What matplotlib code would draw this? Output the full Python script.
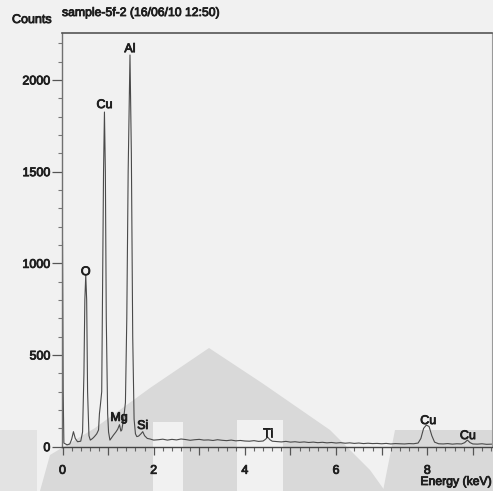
import matplotlib
matplotlib.use("Agg")
import matplotlib.pyplot as plt
from matplotlib.patches import Polygon
from matplotlib.ticker import MultipleLocator, FuncFormatter
import matplotlib.patheffects as pe

# ---- spectrum (energy in keV, counts) ----
energy_kev = [
    -0.03, -0.01, 0.00, 0.015, 0.03, 0.10, 0.16, 0.20, 0.24, 0.28, 0.33,
    0.40, 0.44, 0.47, 0.49, 0.51, 0.53, 0.55, 0.58, 0.61, 0.66, 0.70, 0.75,
    0.79, 0.81, 0.83, 0.86, 0.88, 0.90, 0.92, 0.94, 0.96, 0.99, 1.01, 1.04,
    1.08, 1.12, 1.17, 1.21, 1.25, 1.28, 1.30, 1.34, 1.38, 1.41, 1.44, 1.48,
    1.51, 1.54, 1.57, 1.60, 1.63, 1.67, 1.72, 1.76, 1.80, 1.86, 1.92, 2.00,
    2.1, 2.2, 2.3, 2.4, 2.5, 2.6, 2.7, 2.8, 2.9, 3.0, 3.1, 3.2, 3.3, 3.4,
    3.5, 3.6, 3.7, 3.8, 3.9, 4.0, 4.1, 4.2, 4.3, 4.4, 4.45, 4.50, 4.55, 4.60,
    4.7, 4.8, 4.9, 5.0, 5.1, 5.2, 5.3, 5.4, 5.5, 5.6, 5.7, 5.8, 5.9, 6.0,
    6.1, 6.2, 6.3, 6.4, 6.5, 6.6, 6.7, 6.8, 6.9, 7.0, 7.1, 7.2, 7.3, 7.4,
    7.5, 7.6, 7.7, 7.80, 7.86, 7.92, 7.98, 8.04, 8.10, 8.16, 8.25, 8.35,
    8.45, 8.55, 8.65, 8.75, 8.82, 8.88, 8.94, 9.00, 9.10, 9.20, 9.30, 9.42,
]
counts = [
    0, 300, 1120, 300, 20, 10, 15, 40, 82, 45, 27,
    30, 80, 400, 800, 936, 800, 300, 60, 36, 45, 55, 70,
    91, 180, 225, 300, 900, 1500, 1825, 1500, 700, 180, 80, 36,
    50, 64, 80, 95, 120, 85, 91, 150, 240, 700, 1500, 2136,
    1600, 600, 150, 70, 55, 58, 70, 82, 60, 45, 42, 36,
    38, 41, 36, 40, 37, 42, 39, 35, 38, 40, 36, 37, 34, 38,
    35, 33, 36, 32, 34, 31, 30, 33, 29, 31, 40, 52, 38, 30,
    28, 26, 29, 25, 27, 24, 26, 23, 25, 22, 24, 21, 23, 20,
    22, 19, 21, 18, 20, 17, 19, 17, 18, 16, 18, 15, 17, 16,
    15, 17, 16, 20, 45, 100, 118, 110, 60, 25, 16, 15,
    17, 14, 16, 15, 22, 36, 22, 15, 14, 16, 13, 14,
]

# ---- element labels (anchor energy, anchor counts) ----
peak_labels = ["O", "Cu", "Al", "Mg", "Si", "Ti", "Cu", "Cu"]
label_energy = [0.51, 0.92, 1.48, 1.24, 1.76, 4.50, 8.02, 8.89]
label_counts = [952, 1863, 2168, 157, 113, 69, 140, 58]

x_tick_labels = ["0", "2", "4", "6", "8"]
y_tick_values = [0, 500, 1000, 1500, 2000]

W, H = 493, 491
BG = "#f1f1f1"
INK = "#1e1e1e"
FONT = "Liberation Sans"

fig = plt.figure(figsize=(W / 100, H / 100), dpi=100, facecolor=BG)


def px(x, y):
    return (x / W, 1 - y / H)


# faint grey shapes printed across the lower part of the page
shade = "#d9d9d9"
light = "#e3e3e3"
shapes = [
    ([(209, 348), (262, 383), (330, 430), (370, 470), (385, 491),
      (40, 491), (50, 455), (95, 428), (150, 388)], shade),
    ([(395, 430), (493, 430), (493, 491), (383, 491)], shade),
    ([(0, 430), (37, 430), (37, 491), (0, 491)], light),
    ([(153, 422), (183, 422), (183, 491), (153, 491)], BG),
    ([(237, 420), (283, 420), (283, 491), (237, 491)], BG),
]
for pts, col in shapes:
    fig.patches.append(Polygon([px(*p) for p in pts], closed=True,
                               transform=fig.transFigure, facecolor=col,
                               edgecolor="none", zorder=0))

ax = fig.add_axes([61.5 / W, (H - 446.7) / H, (492 - 61.5) / W, (446.7 - 33) / H])
ax.set_facecolor("none")
ax.set_zorder(2)

ax.plot(energy_kev, counts, color="#4a4a4a", lw=0.8, solid_joinstyle="round")

ax.set_xlim(-0.022, 9.42)
ax.set_ylim(0, 2256)

stroke = [pe.withStroke(linewidth=0.6, foreground=INK)]

# ticks
ax.xaxis.set_major_locator(MultipleLocator(1))
ax.xaxis.set_minor_locator(MultipleLocator(0.2))


def energy_label(v, pos):
    k = int(round(v))
    if k % 2 == 0 and 0 <= k // 2 < len(x_tick_labels):
        return x_tick_labels[k // 2]
    return ""


ax.xaxis.set_major_formatter(FuncFormatter(energy_label))
ax.set_yticks(y_tick_values)
ax.yaxis.set_minor_locator(MultipleLocator(100))

ax.tick_params(axis="x", which="major", direction="out", length=6, width=0.9,
               color="#555555", pad=7, labelsize=9, labelcolor=INK)
ax.tick_params(axis="x", which="minor", direction="out", length=3, width=0.8,
               color="#666666")
ax.tick_params(axis="y", which="major", direction="out", length=7, width=0.9,
               color="#555555", pad=1, labelsize=9, labelcolor=INK)
ax.tick_params(axis="y", which="minor", direction="out", length=3, width=0.8,
               color="#777777")
for lab in ax.get_xticklabels() + ax.get_yticklabels():
    lab.set_fontfamily(FONT)
    lab.set_path_effects(stroke)

for side, col, lw in [("left", "#707070", 1.0), ("bottom", "#444444", 1.0),
                      ("top", "#555555", 1.2), ("right", "#9a9a9a", 0.8)]:
    ax.spines[side].set_color(col)
    ax.spines[side].set_linewidth(lw)

# element labels
for name, e, c in zip(peak_labels, label_energy, label_counts):
    ax.text(e, c, name, ha="center", va="center", fontsize=9,
            family=FONT, color=INK, path_effects=stroke)

# titles
fig.text(12 / W, 1 - 20 / H, "Counts", ha="left", va="center", fontsize=9,
         family=FONT, color=INK, path_effects=stroke)
fig.text(62 / W, 1 - 13 / H, "sample-5f-2 (16/06/10 12:50)", ha="left",
         va="center", fontsize=8.8, family=FONT, color=INK, path_effects=stroke)
fig.text(492 / W, 1 - 482 / H, "Energy (keV)", ha="right", va="center",
         fontsize=8.8, family=FONT, color=INK, path_effects=stroke)

fig.savefig("out.png", dpi=100, facecolor=BG)
